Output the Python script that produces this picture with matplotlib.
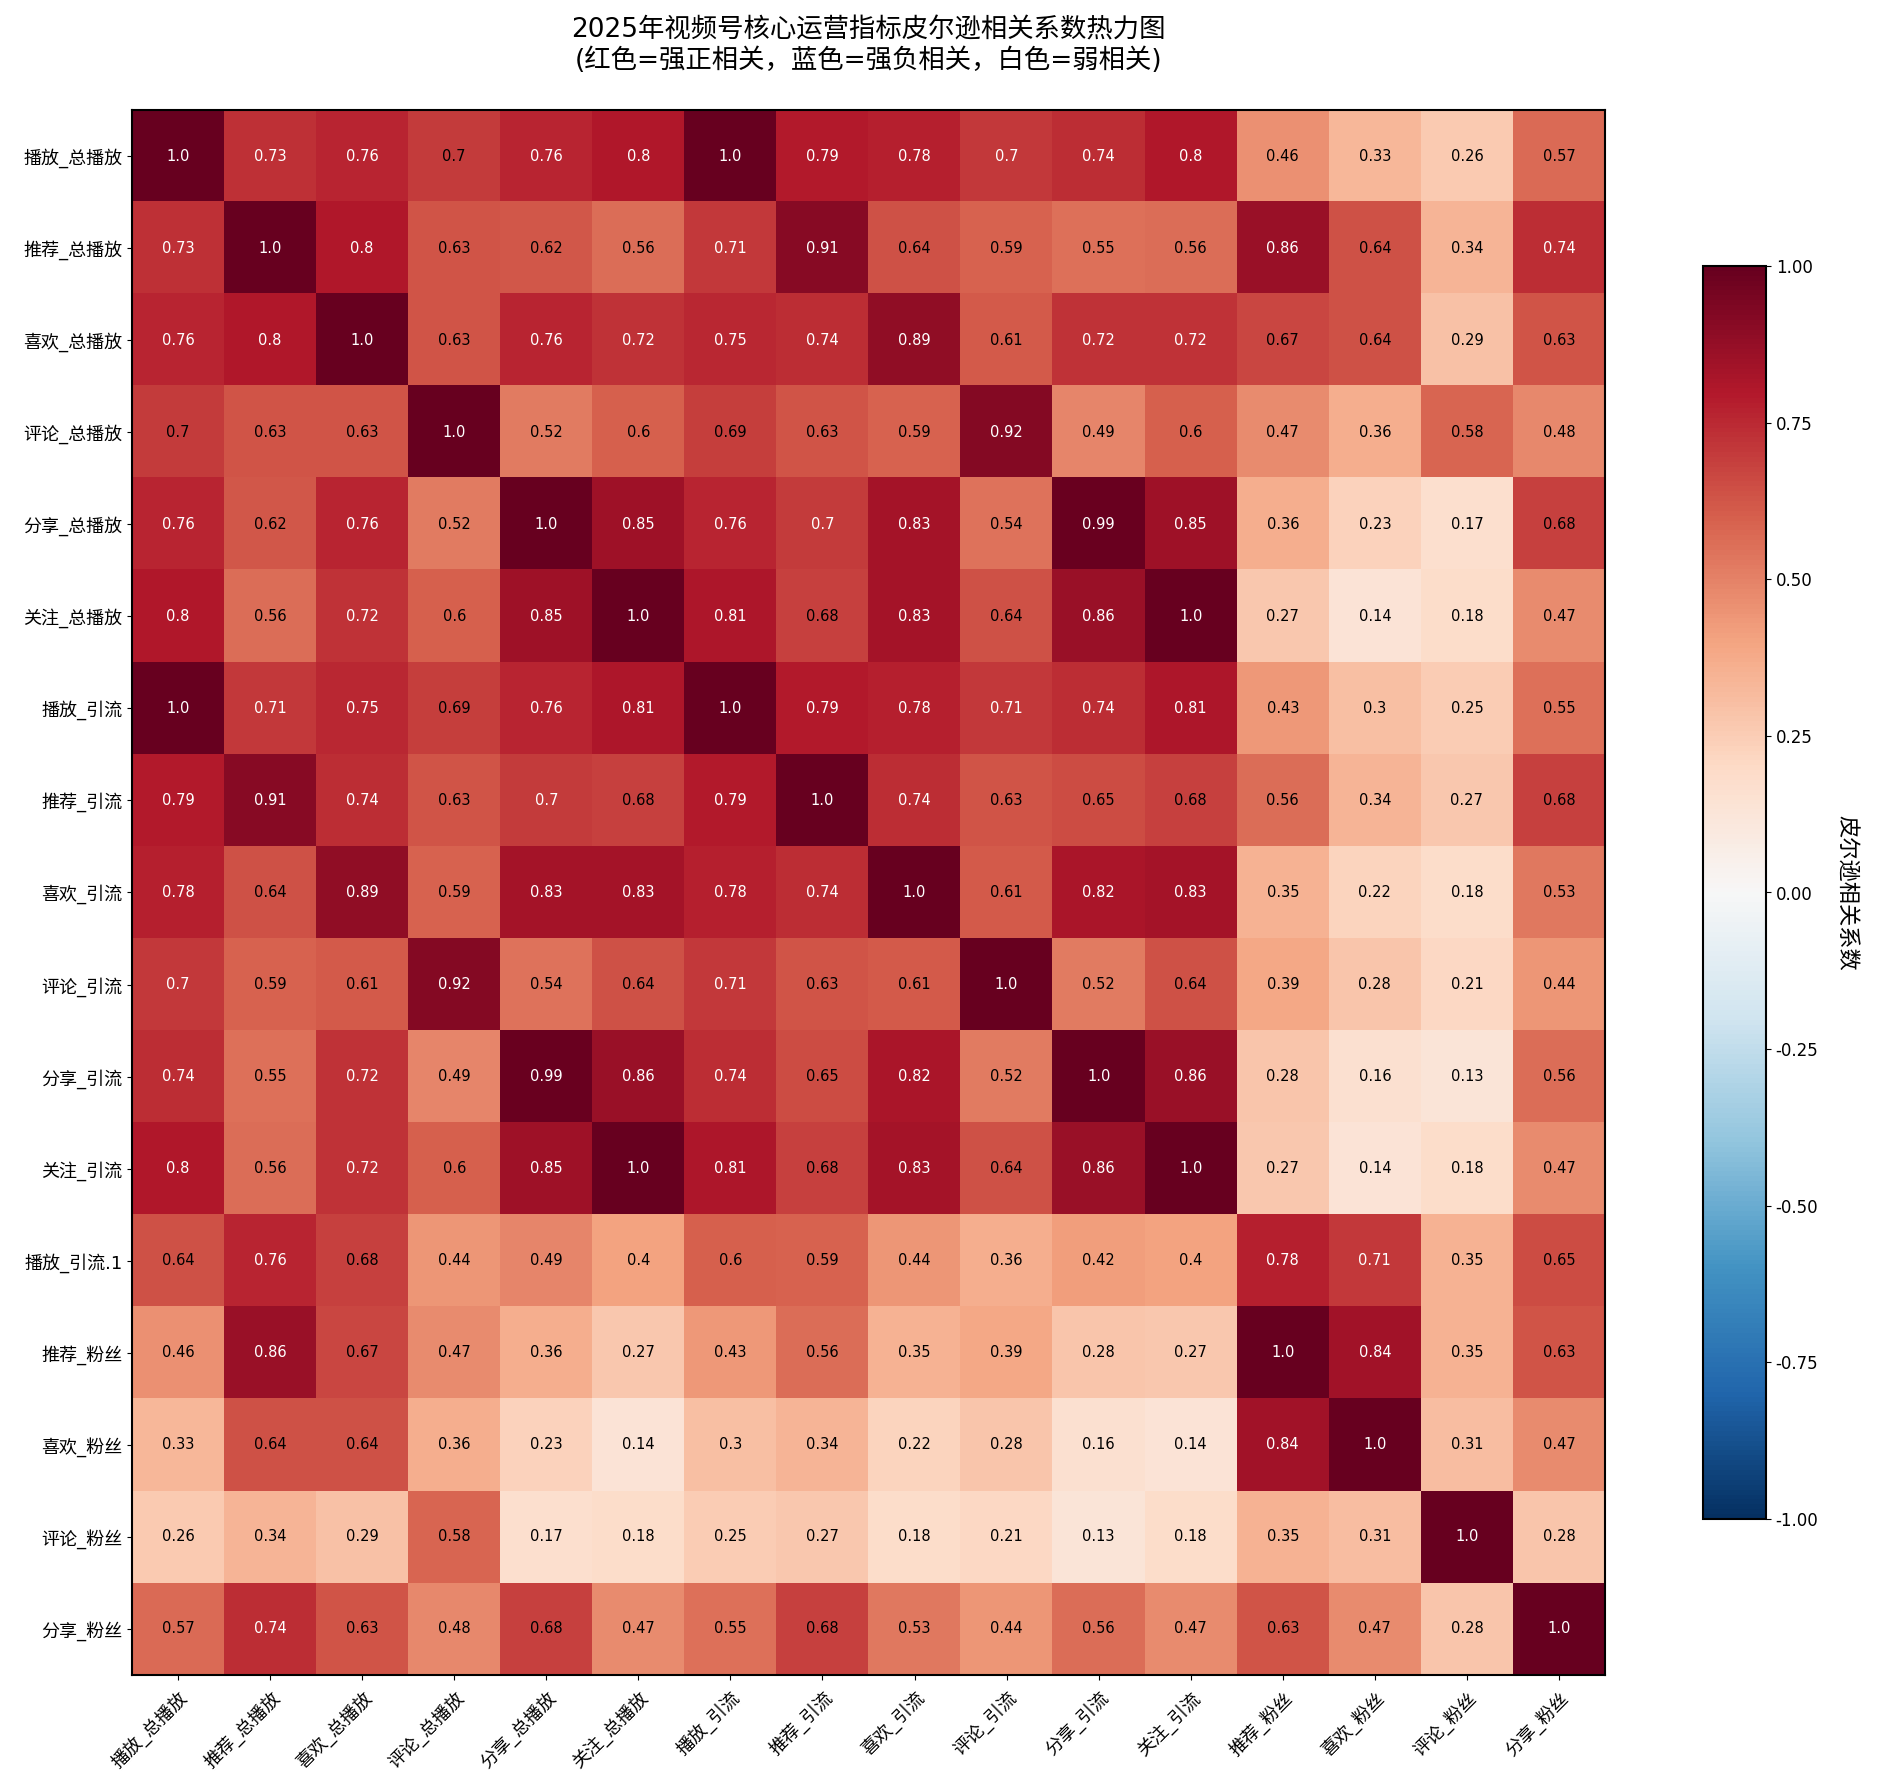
import numpy as np
import matplotlib
matplotlib.use("Agg")
import matplotlib.pyplot as plt

plt.rcParams['font.family'] = ['DejaVu Sans', 'Noto Sans CJK SC']
plt.rcParams['axes.unicode_minus'] = False

title_text = "2025年视频号核心运营指标皮尔逊相关系数热力图\n(红色=强正相关，蓝色=强负相关，白色=弱相关)"
cbar_label = "皮尔逊相关系数"

row_labels = ["播放_总播放", "推荐_总播放", "喜欢_总播放", "评论_总播放", "分享_总播放", "关注_总播放",
              "播放_引流", "推荐_引流", "喜欢_引流", "评论_引流", "分享_引流", "关注_引流",
              "播放_引流.1", "推荐_粉丝", "喜欢_粉丝", "评论_粉丝", "分享_粉丝"]
col_labels = ["播放_总播放", "推荐_总播放", "喜欢_总播放", "评论_总播放", "分享_总播放", "关注_总播放",
              "播放_引流", "推荐_引流", "喜欢_引流", "评论_引流", "分享_引流", "关注_引流",
              "推荐_粉丝", "喜欢_粉丝", "评论_粉丝", "分享_粉丝"]

corr_values = [
    [1.0, 0.73, 0.76, 0.698, 0.76, 0.8, 1.0, 0.79, 0.78, 0.704, 0.74, 0.8, 0.46, 0.33, 0.26, 0.57],
    [0.73, 1.0, 0.8, 0.63, 0.62, 0.56, 0.71, 0.91, 0.64, 0.59, 0.55, 0.56, 0.86, 0.64, 0.34, 0.74],
    [0.76, 0.8, 1.0, 0.63, 0.76, 0.72, 0.75, 0.74, 0.89, 0.61, 0.72, 0.72, 0.67, 0.64, 0.29, 0.63],
    [0.698, 0.63, 0.63, 1.0, 0.52, 0.6, 0.69, 0.63, 0.59, 0.92, 0.49, 0.6, 0.47, 0.36, 0.58, 0.48],
    [0.76, 0.62, 0.76, 0.52, 1.0, 0.85, 0.76, 0.702, 0.83, 0.54, 0.99, 0.85, 0.36, 0.23, 0.17, 0.68],
    [0.8, 0.56, 0.72, 0.6, 0.85, 1.0, 0.81, 0.68, 0.83, 0.64, 0.86, 1.0, 0.27, 0.14, 0.18, 0.47],
    [1.0, 0.71, 0.75, 0.69, 0.76, 0.81, 1.0, 0.79, 0.78, 0.71, 0.74, 0.81, 0.43, 0.3, 0.25, 0.55],
    [0.79, 0.91, 0.74, 0.63, 0.702, 0.68, 0.79, 1.0, 0.74, 0.63, 0.65, 0.68, 0.56, 0.34, 0.27, 0.68],
    [0.78, 0.64, 0.89, 0.59, 0.83, 0.83, 0.78, 0.74, 1.0, 0.61, 0.82, 0.83, 0.35, 0.22, 0.18, 0.53],
    [0.704, 0.59, 0.61, 0.92, 0.54, 0.64, 0.71, 0.63, 0.61, 1.0, 0.52, 0.64, 0.39, 0.28, 0.21, 0.44],
    [0.74, 0.55, 0.72, 0.49, 0.99, 0.86, 0.74, 0.65, 0.82, 0.52, 1.0, 0.86, 0.28, 0.16, 0.13, 0.56],
    [0.8, 0.56, 0.72, 0.6, 0.85, 1.0, 0.81, 0.68, 0.83, 0.64, 0.86, 1.0, 0.27, 0.14, 0.18, 0.47],
    [0.64, 0.76, 0.68, 0.44, 0.49, 0.4, 0.6, 0.59, 0.44, 0.36, 0.42, 0.4, 0.78, 0.71, 0.35, 0.65],
    [0.46, 0.86, 0.67, 0.47, 0.36, 0.27, 0.43, 0.56, 0.35, 0.39, 0.28, 0.27, 1.0, 0.84, 0.35, 0.63],
    [0.33, 0.64, 0.64, 0.36, 0.23, 0.14, 0.3, 0.34, 0.22, 0.28, 0.16, 0.14, 0.84, 1.0, 0.31, 0.47],
    [0.26, 0.34, 0.29, 0.58, 0.17, 0.18, 0.25, 0.27, 0.18, 0.21, 0.13, 0.18, 0.35, 0.31, 1.0, 0.28],
    [0.57, 0.74, 0.63, 0.48, 0.68, 0.47, 0.55, 0.68, 0.53, 0.44, 0.56, 0.47, 0.63, 0.47, 0.28, 1.0],
]

data = np.array(corr_values)

W, H = 1881, 1792
fig = plt.figure(figsize=(W / 100, H / 100), dpi=100)
ax = fig.add_axes([132 / W, 1 - 1675 / H, 1473 / W, 1565 / H])
im = ax.imshow(data, cmap='RdBu_r', vmin=-1, vmax=1, aspect='equal', interpolation='nearest')

ax.set_xticks(np.arange(len(col_labels)))
ax.set_yticks(np.arange(len(row_labels)))
ax.set_xticklabels(col_labels, rotation=45, ha='right', va='top', rotation_mode='anchor', fontsize=13)
ax.set_yticklabels(row_labels, fontsize=13)
ax.tick_params(axis='x', pad=6)
for s in ax.spines.values():
    s.set_linewidth(1.5)

for i in range(data.shape[0]):
    for j in range(data.shape[1]):
        v = data[i, j]
        ax.text(j, i, str(round(v, 2)), ha='center', va='center', fontsize=10.5,
                color='white' if abs(v) > 0.7 else 'black')

ax.set_title(title_text, fontsize=19, pad=30)

cax = fig.add_axes([1703 / W, 1 - 1519 / H, 63 / W, 1253 / H])
cb = fig.colorbar(im, cax=cax)
cb.outline.set_linewidth(1.5)
cb.ax.tick_params(labelsize=12)
cb.set_label(cbar_label, rotation=270, fontsize=16, labelpad=28)

fig.savefig("out.png", dpi=100)
